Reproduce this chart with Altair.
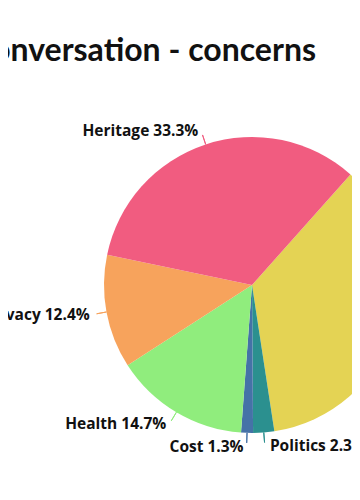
import altair as alt
import pandas as pd
import math

# ---- data ----
categories = ["Safety", "Politics", "Cost", "Health", "Privacy", "Heritage"]
values = [36.0, 2.3, 1.3, 14.7, 12.4, 33.3]
colors = ["#e4d354", "#2b908f", "#4572a7", "#90ed7d", "#f7a35c", "#f15c80"]
order = [1, 2, 3, 4, 5, 6]
title_text = "Online conversation - concerns"

START_DEG = 41.7
start_rad = START_DEG * math.pi / 180

df = pd.DataFrame({"category": categories, "value": values, "order": order})

theta_scale = alt.Scale(domain=[0, 100], range=[start_rad, start_rad + 2 * math.pi])
color = alt.Color("category:N", scale=alt.Scale(domain=categories, range=colors), legend=None)

base = alt.Chart(df).transform_window(
    end="sum(value)", sort=[alt.SortField("order")], frame=[None, 0]
).transform_calculate(
    start="datum.end - datum.value",
    mid="datum.end - datum.value / 2",
    label="datum.category + ' ' + format(datum.value, '.1f') + '%'",
    side=f"(({START_DEG} + (datum.end - datum.value / 2) * 3.6) % 360) < 180 ? 'right' : 'left'",
)

pie = base.mark_arc(radius=148).encode(
    theta=alt.Theta("start:Q", scale=theta_scale, stack=None),
    theta2="end:Q",
    color=color,
)

connectors = base.mark_arc(radius=158, radius2=148, filled=False, strokeWidth=1).encode(
    theta=alt.Theta("mid:Q", scale=theta_scale, stack=None),
    theta2="mid:Q",
    color=color,
)

text_style = dict(radius=162, font="Open Sans", fontWeight="bold", fontSize=15.5,
                  color="#111111", baseline="middle")

left_labels = base.transform_filter("datum.side == 'left'").mark_text(
    align="right", dx=-3, **text_style
).encode(
    theta=alt.Theta("mid:Q", scale=theta_scale, stack=None),
    text="label:N",
)

right_labels = base.transform_filter("datum.side == 'right'").mark_text(
    align="left", dx=5, **text_style
).encode(
    theta=alt.Theta("mid:Q", scale=theta_scale, stack=None),
    text="label:N",
)

chart = alt.layer(pie, connectors, left_labels, right_labels).properties(
    width=200,
    height=414,
    padding={"left": 144, "top": 70, "right": 0, "bottom": 8},
    autosize="none",
    title=alt.TitleParams(
        text=title_text,
        anchor="end",
        frame="group",
        dx=-36,
        dy=31,
        offset=16,
        baseline="alphabetic",
        font="Lato",
        fontWeight="bold",
        fontSize=32,
        color="#111111",
    ),
).configure_view(stroke=None)

chart.save("out.html", embed_options={"renderer": "svg", "actions": False})
